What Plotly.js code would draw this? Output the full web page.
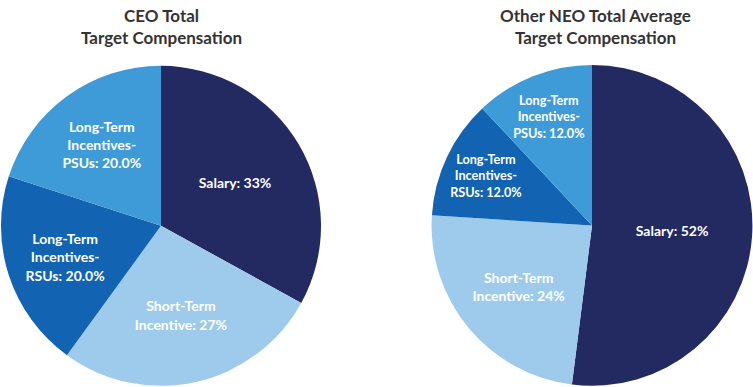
<!DOCTYPE html>
<html><head><meta charset="utf-8">
<script src="https://cdn.plot.ly/plotly-3.0.1.min.js"></script>
<style>body{margin:0;background:#fff}#chart{width:753px;height:387px}</style>
</head><body><div id="chart"></div>
<script>
const categories = ["Salary", "Short-Term Incentive", "Long-Term Incentives-RSUs", "Long-Term Incentives-PSUs"];
const ceoValues = [33, 27, 20, 20];
const neoValues = [52, 24, 12, 12];
const ceoLabels = ["Salary: 33%", "Short-Term<br>Incentive: 27%", "Long-Term<br>Incentives-<br>RSUs: 20.0%", "Long-Term<br>Incentives-<br>PSUs: 20.0%"];
const neoLabels = ["Salary: 52%", "Short-Term<br>Incentive: 24%", "Long-Term<br>Incentives-<br>RSUs: 12.0%", "Long-Term<br>Incentives-<br>PSUs: 12.0%"];
const titles = ["CEO Total<br>Target Compensation", "Other NEO Total Average<br>Target Compensation"];
const colors = ["#232a61", "#9ecbec", "#1264b2", "#3f9bd7"];

const font = "Lato, 'Open Sans', sans-serif";
function pie(values, labels, domain) {
  return {
    type: "pie", values: values, labels: categories, text: labels,
    textinfo: "text", textposition: "inside", insidetextorientation: "horizontal",
    sort: false, direction: "clockwise", rotation: 0,
    marker: {colors: colors, line: {width: 0}},
    textfont: {family: font, size: 14, color: "#ffffff", weight: "bold"},
    domain: domain, hoverinfo: "label+percent", showlegend: false
  };
}
const data = [
  pie(ceoValues, ceoLabels, {x: [0, 0.4276], y: [0.003, 0.83]}),
  pie(neoValues, neoLabels, {x: [0.5724, 1], y: [0.003, 0.832]})
];
const layout = {
  width: 753, height: 387, margin: {l: 0, r: 0, t: 0, b: 0},
  paper_bgcolor: "#fff", showlegend: false,
  annotations: [
    {text: titles[0], x: 161/753, y: 1 - 3/387, xref: "paper", yref: "paper", xanchor: "center", yanchor: "top", showarrow: false,
     font: {family: font, size: 17, color: "#333333", weight: "bold"}},
    {text: titles[1], x: 595/753, y: 1 - 3/387, xref: "paper", yref: "paper", xanchor: "center", yanchor: "top", showarrow: false,
     font: {family: font, size: 17, color: "#333333", weight: "bold"}}
  ]
};
Plotly.newPlot("chart", data, layout, {displayModeBar: false, staticPlot: true});
</script></body></html>
